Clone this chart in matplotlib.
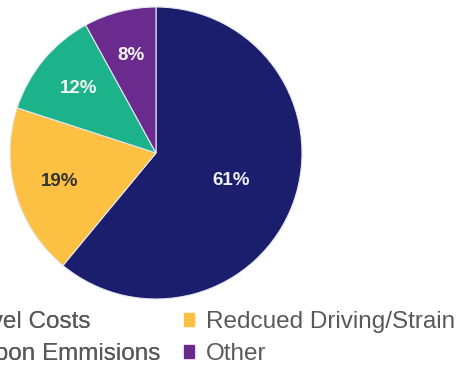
import matplotlib.pyplot as plt
from matplotlib.patches import Patch

plt.rcParams['font.family'] = ['Liberation Sans', 'DejaVu Sans']

labels = ['Reduced Travel Costs', 'Redcued Driving/Strain',
          'Reduced Carbon Emmisions', 'Other']
shares = [61, 19, 12, 8]
colors = ['#1b1e6d', '#fcc042', '#1cb38a', '#6b2b8e']
pct_colors = ['#f0f0f5', '#333333', '#f5f5f5', '#f5f5f5']

fig = plt.figure(figsize=(4.57, 3.65), dpi=100)
W, H = 457, 365

# pie axes: centre (156, 153) px, radius 146 px
cx, cy, r = 156, 153, 146
ax = fig.add_axes([(cx - r) / W, (H - cy - r) / H, 2 * r / W, 2 * r / H])

wedges, texts, autotexts = ax.pie(
    shares, colors=colors, startangle=90, counterclock=False,
    autopct='%d%%', pctdistance=0.69, radius=1,
    wedgeprops={'edgecolor': '#e6e6f0', 'linewidth': 0.8})
ax.set_xlim(-1, 1)
ax.set_ylim(-1, 1)
ax.set_aspect('equal')

for t, c in zip(autotexts, pct_colors):
    t.set_color(c)
    t.set_fontsize(13.5)
    t.set_fontweight('bold')
# the big slice label sits closer to the centre
x, y = autotexts[0].get_position()
autotexts[0].set_position((x * 0.55 / 0.69, y * 0.55 / 0.69))

legend_kw = dict(frameon=False, fontsize=17.5, labelcolor='#595959',
                 handlelength=0.42, handleheight=0.42, handletextpad=0.5,
                 labelspacing=0.42, borderpad=0, borderaxespad=0)

# left column (runs off the canvas on the left)
h1 = [Patch(color=colors[0]), Patch(color=colors[2])]
leg1 = fig.legend(h1, [labels[0], labels[2]], loc='upper right',
                  bbox_to_anchor=(160 / W, 1 - 311 / H), **legend_kw)
fig.add_artist(leg1)

# right column
h2 = [Patch(color=colors[1]), Patch(color=colors[3])]
fig.legend(h2, [labels[1], labels[3]], loc='upper left',
           bbox_to_anchor=(184 / W, 1 - 311 / H), **legend_kw)

fig.savefig('out.png', dpi=100)
